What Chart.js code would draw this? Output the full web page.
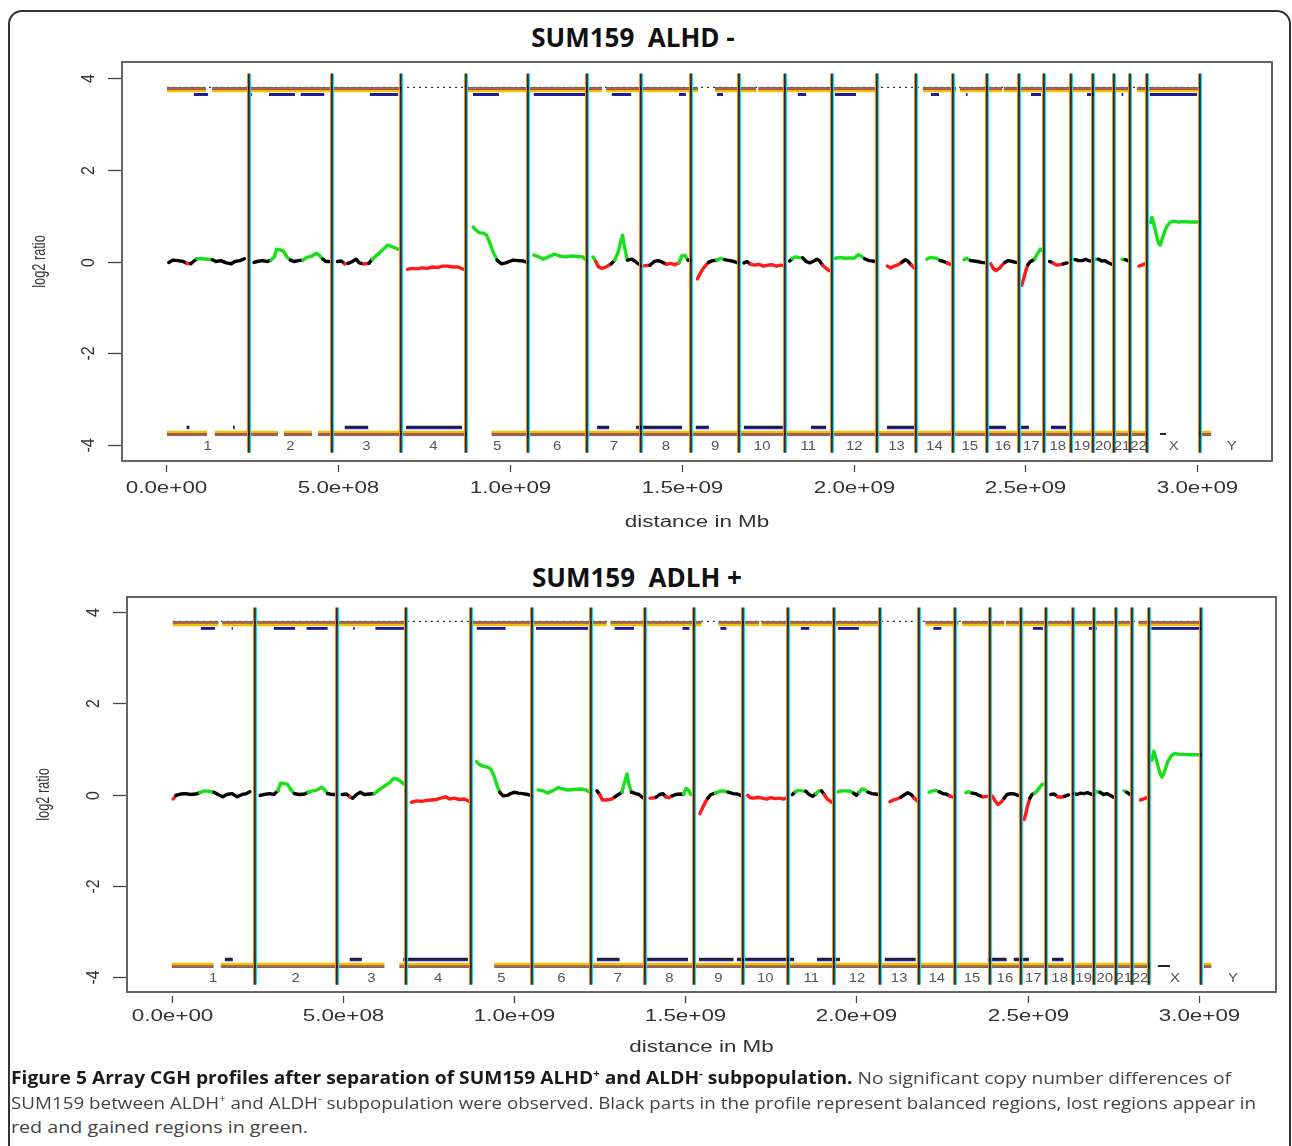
<!DOCTYPE html>
<html>
<head>
<meta charset="utf-8">
<script src="https://cdn.jsdelivr.net/npm/chart.js@4.4.1/dist/chart.umd.min.js"></script>
<style>
body { margin: 0; background: #fff; }
#page { position: relative; width: 1292px; height: 1146px; overflow: hidden; font-family: "Open Sans", sans-serif; }
#frame { position: absolute; left: 8px; top: 10px; width: 1283px; height: 1300px; border: 2px solid #333; border-radius: 14px; box-sizing: border-box; }
.ttl { position: absolute; left: 0; text-align: center; font-weight: 700; font-size: 26px; line-height: 30px; color: #111; }
canvas { position: absolute; left: 0; }
.cap { position: absolute; left: 11px; font-size: 17px; color: #444; white-space: nowrap; transform-origin: 0 0; }
.cap b { color: #1a1a1a; }
.cap sup { font-size: 10px; line-height: 0; }
</style>
</head>
<body>
<div id="page">
  <div id="frame"></div>
  <div class="ttl" style="top:22px;width:1266px;">SUM159&nbsp;&nbsp;ALHD -</div>
  <div class="ttl" style="top:562px;width:1274px;">SUM159&nbsp;&nbsp;ADLH +</div>
  <canvas id="chartMinus" width="1292" height="500" style="top:50px"></canvas>
  <canvas id="chartPlus" width="1292" height="500" style="top:585px"></canvas>
  <div class="cap" id="cap1" style="top:1066px"><b>Figure 5 Array CGH profiles after separation of SUM159 ALHD<sup>+</sup> and ALDH<sup>-</sup> subpopulation.</b> No significant copy number differences of</div>
  <div class="cap" id="cap2" style="top:1091px">SUM159 between ALDH<sup>+</sup> and ALDH<sup>-</sup> subpopulation were observed. Black parts in the profile represent balanced regions, lost regions appear in</div>
  <div class="cap" id="cap3" style="top:1115px">red and gained regions in green.</div>
</div>
<script>
// chromosome layout (positions in Mb)
const chromNames = ['1','2','3','4','5','6','7','8','9','10','11','12','13','14','15','16','17','18','19','20','21','22','X','Y'];
const chromEndMb = [242,483,683,874,1052,1225,1382,1526,1668,1801,1936,2068,2182,2288,2389,2480,2555,2633,2695,2758,2804,2854,3008];
const chromLabelMb = [121,362,583,778,963,1138,1303,1454,1597,1734,1868,2002,2125,2235,2338,2434,2517,2594,2664,2726,2781,2829,2931,3100];
const xTickMb = [0,500,1000,1500,2000,2500,3000];
const yTickVals = [-4,-2,0,2,4];

// smoothed log2 ratio, ALDH- (one list per chromosome, [Mb, log2])
const profileMinus = [
  [[8,-0.02],[20,0.03],[35,0.02],[50,0],[60,-0.04],[72,-0.05],[80,0],[90,0.06],[105,0.06],[120,0.05],[135,0.04],[145,0],[160,0.02],[175,-0.03],[190,-0.05],[200,0],[215,0.02],[228,0.06]],
  [[256,-0.02],[265,0],[280,0.02],[295,0],[305,0.03],[315,0.1],[322,0.27],[330,0.26],[342,0.22],[352,0.1],[362,0.03],[372,0],[385,0.02],[398,0.03],[410,0.09],[425,0.12],[437,0.18],[447,0.13],[456,0.05],[465,0],[478,0]],
  [[499,0],[510,0.01],[520,-0.05],[530,-0.04],[542,0],[553,0.05],[562,-0.03],[575,-0.05],[590,-0.04],[600,0.05],[615,0.15],[630,0.25],[645,0.36],[655,0.33],[665,0.3],[675,0.27]],
  [[702,-0.17],[715,-0.15],[730,-0.16],[745,-0.14],[760,-0.15],[775,-0.12],[790,-0.13],[805,-0.1],[820,-0.1],[835,-0.12],[850,-0.12],[865,-0.17]],
  [[893,0.75],[900,0.7],[910,0.63],[922,0.62],[932,0.58],[942,0.4],[952,0.2],[963,0.03],[975,-0.05],[988,-0.03],[998,0],[1010,0.03],[1025,0.02],[1040,0.01],[1050,-0.02]],
  [[1070,0.14],[1085,0.1],[1097,0.05],[1112,0.1],[1130,0.16],[1145,0.12],[1160,0.1],[1180,0.12],[1200,0.11],[1212,0.1],[1222,0.03]],
  [[1242,0.1],[1250,0],[1258,-0.12],[1268,-0.15],[1280,-0.12],[1295,-0.05],[1305,0.03],[1315,0.2],[1323,0.45],[1328,0.57],[1334,0.3],[1342,0.03],[1355,0.05],[1365,0],[1376,-0.06]],
  [[1384,-0.1],[1395,-0.09],[1408,-0.08],[1420,0],[1432,0.02],[1445,-0.02],[1455,-0.06],[1468,-0.04],[1480,-0.07],[1492,-0.03],[1500,0.12],[1510,0.13],[1518,0.03],[1524,0.02]],
  [[1546,-0.38],[1552,-0.28],[1560,-0.18],[1568,-0.1],[1578,-0.02],[1590,0.02],[1602,0.03],[1614,0.07],[1625,0.04],[1640,0.02],[1652,0],[1663,-0.03]],
  [[1681,-0.03],[1690,0],[1700,-0.06],[1712,-0.08],[1725,-0.06],[1738,-0.1],[1750,-0.08],[1762,-0.07],[1775,-0.1],[1787,-0.08],[1795,-0.09]],
  [[1814,0.01],[1822,0.06],[1830,0.1],[1840,0.09],[1852,0.08],[1862,0],[1872,-0.03],[1882,0],[1893,0.05],[1900,0.02],[1910,-0.08],[1920,-0.15],[1929,-0.2]],
  [[1947,0.07],[1960,0.09],[1975,0.07],[1990,0.08],[2002,0.07],[2013,0.15],[2022,0.12],[2032,0.06],[2045,0.02],[2055,0.01],[2062,0]],
  [[2098,-0.1],[2108,-0.14],[2118,-0.1],[2130,-0.07],[2140,-0.02],[2150,0.04],[2158,0.01],[2168,-0.08],[2177,-0.15]],
  [[2213,0.05],[2222,0.09],[2232,0.08],[2242,0.07],[2252,0.02],[2262,0],[2272,-0.03],[2280,-0.06]],
  [[2321,0.04],[2330,0.07],[2340,0.02],[2350,0.01],[2360,0],[2372,-0.02],[2382,-0.03]],
  [[2399,-0.05],[2406,-0.15],[2414,-0.2],[2424,-0.15],[2432,-0.08],[2440,-0.02],[2450,0.02],[2462,0],[2472,-0.02]],
  [[2489,-0.52],[2493,-0.42],[2500,-0.22],[2507,-0.07],[2514,0],[2520,0.02],[2527,0.06],[2533,0.15],[2543,0.27],[2552,0.22]],
  [[2570,0],[2580,-0.03],[2590,-0.08],[2600,-0.07],[2610,-0.05],[2621,-0.03]],
  [[2636,0.05],[2645,0.04],[2655,0.02],[2665,0.02],[2675,0.05],[2683,0.02],[2691,0.01]],
  [[2703,0.05],[2712,0.05],[2722,0.01],[2730,0.02],[2740,-0.02],[2751,-0.06]],
  [[2781,0.05],[2790,0.04],[2800,0.01]],
  [[2830,-0.1],[2838,-0.08],[2848,-0.05]],
  [[2864,0.85],[2868,0.96],[2874,0.8],[2880,0.6],[2887,0.4],[2892,0.36],[2900,0.55],[2910,0.75],[2920,0.85],[2930,0.88],[2945,0.86],[2960,0.87],[2975,0.86],[2990,0.86],[3005,0.86]]
];

// smoothed log2 ratio, ALDH+
const profilePlus = [
  [[4,-0.1],[12,-0.02],[25,0.01],[40,0.02],[55,0],[70,0.01],[82,0.04],[95,0.08],[110,0.07],[123,0.05],[135,0],[149,-0.05],[160,0],[175,0.02],[191,-0.05],[205,0],[218,0.02],[228,0.06]],
  [[258,-0.02],[270,0],[285,0.02],[298,0],[310,0.08],[318,0.25],[328,0.24],[338,0.22],[348,0.1],[358,0.02],[372,0],[388,0.01],[398,0.05],[412,0.08],[425,0.1],[437,0.16],[447,0.1],[455,0.02],[468,0],[478,0]],
  [[498,0],[510,0.01],[520,-0.05],[528,-0.08],[540,0],[551,0.05],[562,0],[578,0.01],[592,0.02],[605,0.1],[620,0.18],[635,0.25],[648,0.35],[658,0.34],[668,0.29],[677,0.23]],
  [[700,-0.17],[715,-0.14],[730,-0.15],[745,-0.13],[760,-0.12],[772,-0.11],[785,-0.08],[800,-0.05],[812,-0.1],[825,-0.08],[840,-0.11],[855,-0.1],[868,-0.15]],
  [[890,0.72],[898,0.66],[910,0.62],[922,0.6],[932,0.56],[942,0.4],[950,0.2],[958,0.05],[968,-0.03],[980,-0.02],[990,0.02],[1000,0.05],[1012,0.03],[1025,0.02],[1040,0],[1048,-0.02]],
  [[1070,0.1],[1085,0.08],[1097,0.03],[1112,0.08],[1128,0.15],[1140,0.13],[1155,0.1],[1175,0.11],[1195,0.12],[1210,0.1],[1222,0.05]],
  [[1242,0.08],[1250,0],[1258,-0.12],[1270,-0.12],[1285,-0.1],[1295,-0.05],[1305,0],[1315,0.05],[1322,0.25],[1330,0.45],[1336,0.2],[1343,0.05],[1355,0.02],[1365,0],[1376,-0.07]],
  [[1397,-0.08],[1405,-0.08],[1415,-0.06],[1425,0],[1435,0.02],[1443,-0.05],[1452,-0.07],[1462,-0.03],[1472,0],[1485,0.01],[1495,0],[1502,0.13],[1510,0.1],[1516,0]],
  [[1543,-0.42],[1550,-0.3],[1558,-0.18],[1566,-0.08],[1575,0],[1588,0.03],[1600,0.07],[1612,0.08],[1625,0.05],[1640,0.02],[1652,0.01],[1662,-0.02]],
  [[1682,-0.02],[1690,-0.07],[1700,-0.08],[1712,-0.06],[1725,-0.08],[1738,-0.1],[1750,-0.07],[1762,-0.09],[1775,-0.08],[1787,-0.1],[1795,-0.08]],
  [[1813,0],[1822,0.06],[1830,0.09],[1842,0.08],[1852,0.07],[1862,0],[1872,-0.04],[1882,0.02],[1890,0.08],[1898,0.08],[1906,0],[1915,-0.1],[1928,-0.17]],
  [[1947,0.06],[1958,0.08],[1970,0.08],[1982,0.07],[1992,0.03],[2000,-0.02],[2008,0.05],[2016,0.12],[2024,0.11],[2034,0.05],[2045,0.02],[2055,0.01],[2064,0]],
  [[2098,-0.16],[2108,-0.12],[2118,-0.1],[2130,-0.06],[2140,-0.01],[2150,0.04],[2160,0],[2168,-0.07],[2178,-0.14]],
  [[2212,0.05],[2222,0.08],[2232,0.09],[2242,0.06],[2252,0.02],[2262,0.01],[2272,-0.03],[2282,-0.06]],
  [[2320,0.04],[2328,0.06],[2338,0.03],[2348,0.02],[2358,-0.02],[2370,-0.05],[2382,-0.04]],
  [[2398,-0.04],[2406,-0.15],[2414,-0.22],[2424,-0.16],[2432,-0.08],[2440,0],[2450,0.02],[2462,0.01],[2472,-0.02]],
  [[2490,-0.55],[2494,-0.45],[2500,-0.25],[2507,-0.08],[2513,0],[2520,0.03],[2526,0.06],[2534,0.14],[2542,0.22],[2550,0.23]],
  [[2568,0],[2578,0.01],[2588,-0.05],[2598,-0.06],[2608,-0.04],[2620,-0.01]],
  [[2636,0.02],[2645,0],[2655,0.03],[2665,0.02],[2675,0.04],[2684,0.01],[2692,0]],
  [[2703,0.06],[2712,0.05],[2722,0],[2732,0.02],[2742,-0.02],[2752,-0.06]],
  [[2782,0.08],[2790,0.05],[2800,0]],
  [[2830,-0.12],[2838,-0.1],[2848,-0.07]],
  [[2864,0.75],[2869,0.95],[2875,0.8],[2882,0.6],[2888,0.45],[2893,0.38],[2900,0.5],[2910,0.72],[2920,0.85],[2930,0.9],[2945,0.88],[2960,0.88],[2975,0.87],[2990,0.87],[3008,0.87]]
];

// marker bands near +/-3.75 (Mb ranges)
const topBandMinus = [[3,116],[134,683],[875,1268],[1280,1547],[1597,1716],[1723,2068],[2202,2298],[2309,2432],[2437,2800],[2824,3005]];
const topBlueMinus = [[81,122],[246,250],[300,375],[392,460],[593,675],[893,968],[1070,1219],[1297,1353],[1492,1512],[1603,1620],[1838,1862],[1946,2007],[2225,2248],[2327,2331],[2516,2545],[2679,2702],[2780,2784],[2862,2999]];
const botBandMinus = [[3,119],[142,326],[343,425],[442,875],[947,2856],[3005,3040]];
const botRaisedMinus = [[60,68],[195,200],[520,588],[698,861],[1254,1289],[1367,1501],[1541,1579],[1681,1794],[1876,1920],[2097,2176],[2391,2443],[2484,2510],[2574,2618]];
const botDashMinus = [[2891,2909]];

const topBandPlus = [[3,136],[147,684],[875,1270],[1282,1547],[1597,1716],[1723,2068],[2202,2298],[2309,2432],[2437,2800],[2824,3008]];
const topBluePlus = [[85,126],[175,178],[298,360],[394,455],[530,534],[595,678],[891,975],[1064,1216],[1294,1350],[1492,1512],[1603,1620],[1838,1862],[1946,2007],[2225,2248],[2516,2545],[2679,2702],[2862,3008]];
const botBandPlus = [[0,122],[143,621],[665,876],[942,2860],[3015,3037]];
const botRaisedPlus = [[155,178],[520,555],[676,865],[1242,1308],[1385,1508],[1540,1641],[1651,1818],[1885,1952],[2083,2173],[2384,2439],[2460,2504],[2572,2605]];
const botDashPlus = [[2881,2916]];

function fmtBp(mb) {
  const v = mb * 1e6;
  if (v === 0) return '0.0e+00';
  const e = Math.floor(Math.log10(v));
  return (v / Math.pow(10, e)).toFixed(1) + 'e+' + String(e).padStart(2, '0');
}

function stateColor(v) {
  if (v > 0.04) return '#18e018';
  if (v < -0.04) return '#ff1a1a';
  return '#000000';
}

function segPoints(segs, y) {
  const pts = [];
  segs.forEach(s => { pts.push({x: s[0], y: y}, {x: s[1], y: y}, {x: s[1], y: null}); });
  return pts;
}

function lineDs(data, color, width, dash) {
  return { data: data, borderColor: color, borderWidth: width, borderDash: dash || [], pointRadius: 0,
           fill: false, tension: 0, spanGaps: false, borderCapStyle: 'butt' };
}

function wideText(ctx, txt, x, y, sx) {
  ctx.save();
  ctx.translate(x, y);
  ctx.scale(sx, 1);
  ctx.fillText(txt, 0, 0);
  ctx.restore();
}

// R style box, axes and chromosome separators
const rAxes = {
  id: 'rAxes',
  afterDatasetsDraw(chart, args, opts) {
    const ctx = chart.ctx, a = chart.chartArea, xs = chart.scales.x, ys = chart.scales.y;
    ctx.save();
    // chromosome separators
    const yTop = ys.getPixelForValue(4.1), yBot = ys.getPixelForValue(-4.17);
    chromEndMb.forEach(mb => {
      const px = Math.round(xs.getPixelForValue(mb));
      [['#f08a24', -1.4, 1.3], ['#000', 0, 1.6], ['#22d8e6', 1.5, 1.3]].forEach(c => {
        ctx.strokeStyle = c[0]; ctx.lineWidth = c[2];
        ctx.beginPath(); ctx.moveTo(px + c[1], yTop); ctx.lineTo(px + c[1], yBot); ctx.stroke();
      });
    });
    // chromosome labels
    ctx.fillStyle = '#555'; ctx.font = '13px "Liberation Sans", Arial, sans-serif';
    ctx.textAlign = 'center'; ctx.textBaseline = 'middle';
    const yLab = ys.getPixelForValue(-4.03);
    chromNames.forEach((n, i) => wideText(ctx, n, xs.getPixelForValue(chromLabelMb[i]), yLab, 1.15));
    // box
    ctx.strokeStyle = '#555'; ctx.lineWidth = 1.8;
    ctx.strokeRect(a.left, a.top, a.right - a.left, a.bottom - a.top);
    // y axis
    ctx.strokeStyle = '#444'; ctx.lineWidth = 1.3; ctx.fillStyle = '#333';
    ctx.font = '16px "Liberation Sans", Arial, sans-serif';
    yTickVals.forEach(v => {
      const py = Math.round(ys.getPixelForValue(v)) + 0.5;
      ctx.beginPath(); ctx.moveTo(a.left - 14, py); ctx.lineTo(a.left - 1, py); ctx.stroke();
      ctx.save(); ctx.translate(a.left - 33, py); ctx.rotate(-Math.PI / 2); ctx.scale(1, 1.15);
      ctx.fillText(String(v), 0, 0); ctx.restore();
    });
    ctx.save(); ctx.translate(a.left - opts.yTitleOff, (a.top + a.bottom) / 2); ctx.rotate(-Math.PI / 2);
    ctx.font = '15px "Liberation Sans", Arial, sans-serif'; ctx.scale(0.85, 1.2);
    ctx.fillText('log2 ratio', 0, 0); ctx.restore();
    // x axis
    xTickMb.forEach(mb => {
      const px = Math.round(xs.getPixelForValue(mb)) + 0.5;
      ctx.beginPath(); ctx.moveTo(px, a.bottom + 4); ctx.lineTo(px, a.bottom + 11); ctx.stroke();
      wideText(ctx, fmtBp(mb), px, a.bottom + opts.xLabOff, 1.4);
    });
    wideText(ctx, 'distance in Mb', (a.left + a.right) / 2, a.bottom + opts.xTitleOff, 1.4);
    ctx.restore();
  }
};

function makeChart(id, profile, topBand, topBlue, botBand, botRaised, botDash, xr, pad, offs) {
  const ds = [];
  profile.forEach(chrom => {
    const d = lineDs(chrom.map(p => ({x: p[0], y: p[1]})), '#000', 3.4);
    d.borderCapStyle = 'round'; d.borderJoinStyle = 'round';
    d.segment = { borderColor: c => stateColor((c.p0.parsed.y + c.p1.parsed.y) / 2) };
    ds.push(d);
  });
  ds.push(lineDs(segPoints(topBlue, 3.645), '#1c1c8c', 2.6));
  ds.push(lineDs(segPoints(topBlue, 3.625), '#2a2aff', 1.4));
  ds.push(lineDs(segPoints(topBand, 3.715), '#f2c200', 2.4));
  ds.push(lineDs(segPoints(topBand, 3.755), '#b04a3a', 2));
  ds.push(lineDs(segPoints(topBand, 3.79), '#6a6a6a', 1.5));
  ds.push(lineDs(segPoints([[3, 3008]], 3.795), '#333', 1.3, [2, 4]));
  ds.push(lineDs(segPoints(botRaised, -3.61), '#1e1e3c', 2.6));
  ds.push(lineDs(segPoints(botRaised, -3.64), '#2a2aff', 1.4));
  ds.push(lineDs(segPoints(botDash, -3.76), '#222', 2));
  ds.push(lineDs(segPoints(botBand, -3.715), '#f2c200', 2.4));
  ds.push(lineDs(segPoints(botBand, -3.755), '#b04a3a', 2));
  ds.push(lineDs(segPoints(botBand, -3.79), '#6a6a6a', 1.5));

  return new Chart(document.getElementById(id), {
    type: 'line',
    data: { datasets: ds },
    options: {
      responsive: false,
      animation: false,
      events: [],
      layout: { padding: pad },
      scales: {
        x: { type: 'linear', min: xr[0], max: xr[1], display: false },
        y: { type: 'linear', min: xr[2], max: xr[3], display: false }
      },
      plugins: { legend: { display: false }, tooltip: { enabled: false }, rAxes: offs }
    },
    plugins: [rAxes]
  });
}

makeChart('chartMinus', profileMinus, topBandMinus, topBlueMinus, botBandMinus, botRaisedMinus, botDashMinus,
  [-128, 3217, -4.35, 4.35], {left: 122, right: 20, top: 12, bottom: 89},
  {xLabOff: 28, xTitleOff: 62, yTitleOff: 82});
makeChart('chartPlus', profilePlus, topBandPlus, topBluePlus, botBandPlus, botRaisedPlus, botDashPlus,
  [-131, 3226, -4.33, 4.33], {left: 127, right: 16, top: 12, bottom: 93},
  {xLabOff: 25, xTitleOff: 56, yTitleOff: 83});

// fit caption lines to the printed line widths
[['cap1', 1220], ['cap2', 1245], ['cap3', 297]].forEach(c => {
  const el = document.getElementById(c[0]);
  el.style.transform = 'scaleX(' + (c[1] / el.getBoundingClientRect().width) + ')';
});
</script>
</body>
</html>
